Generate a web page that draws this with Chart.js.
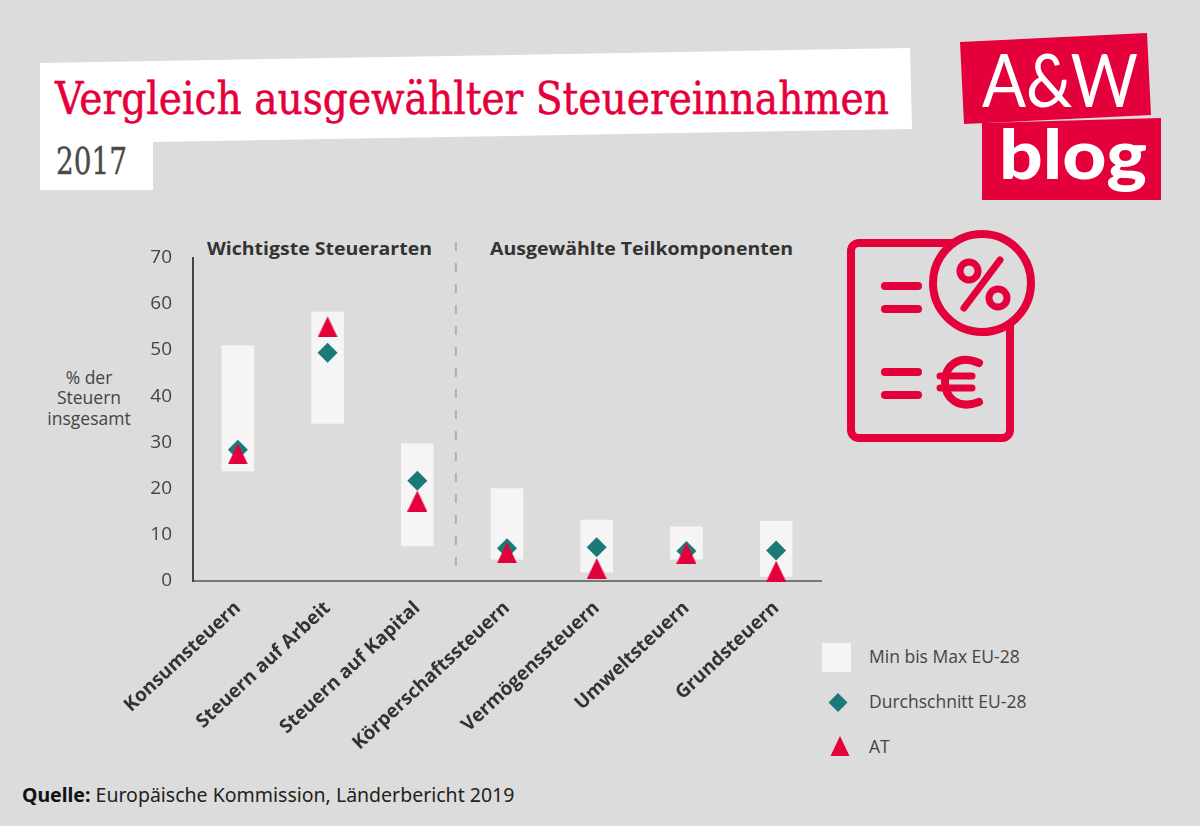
<!DOCTYPE html>
<html lang="de">
<head>
<meta charset="utf-8">
<title>Vergleich ausgewählter Steuereinnahmen</title>
<script src="https://cdn.jsdelivr.net/npm/chart.js@4"></script>
<style>
  html, body { margin: 0; padding: 0; background: #dcdcdc; }
  #wrap { position: relative; width: 1200px; height: 826px; overflow: hidden; }
  #wrap svg, #wrap canvas { position: absolute; left: 0; top: 0; }
</style>
</head>
<body>
<div id="wrap">
<svg width="1200" height="826" viewBox="0 0 1200 826" xmlns="http://www.w3.org/2000/svg">
  <!-- title block -->
  <polygon points="40,63 910,48 912,129 153,142 153,190 40,190" fill="#fff"/>
  <text x="55" y="114" font-family="DejaVu Serif Condensed, DejaVu Serif" font-size="44" fill="#e4003a" stroke="#e4003a" stroke-width="0.5" textLength="834" lengthAdjust="spacingAndGlyphs">Vergleich ausgewählter Steuereinnahmen</text>
  <text x="56" y="174" font-family="DejaVu Serif Condensed, DejaVu Serif" font-size="37" fill="#4a4a4a" stroke="#4a4a4a" stroke-width="0.4" textLength="71" lengthAdjust="spacingAndGlyphs">2017</text>

  <!-- logo -->
  <polygon points="960,42 1147,33 1151,115 964,124" fill="#e4003a"/>
  <polygon points="982,123 1161,118 1161,200 982,200" fill="#e4003a"/>
  <text x="982" y="107" font-family="Lato" font-size="73" fill="#fff" textLength="156" lengthAdjust="spacingAndGlyphs">A&amp;W</text>
  <text x="999" y="179" font-family="Lato" font-weight="900" font-size="68" fill="#fff" textLength="148" lengthAdjust="spacingAndGlyphs">blog</text>

  <!-- document icon -->
  <g fill="none" stroke="#e4003a" stroke-width="8" stroke-linecap="round">
    <rect x="851" y="243" width="159" height="195" rx="8"/>
    <circle cx="982" cy="283" r="49" fill="#dcdcdc"/>
    <circle cx="969" cy="271" r="9" stroke-width="7"/>
    <circle cx="998" cy="298" r="9" stroke-width="7"/>
    <line x1="1000" y1="260" x2="964" y2="308" stroke-width="7"/>
    <line x1="885" y1="286" x2="918" y2="286"/>
    <line x1="885" y1="309" x2="918" y2="309"/>
    <line x1="885" y1="372" x2="918" y2="372"/>
    <line x1="885" y1="395" x2="918" y2="395"/>
    <path d="M979 363 C958 354 945 366 945 382 C945 398 958 410 979 402"/>
    <line x1="940" y1="376" x2="972" y2="376" stroke-width="7"/>
    <line x1="940" y1="388" x2="972" y2="388" stroke-width="7"/>
  </g>

  <!-- panel headings -->
  <text x="207" y="255" font-family="Open Sans" font-weight="700" font-size="18.500" fill="#333" textLength="225" lengthAdjust="spacingAndGlyphs">Wichtigste Steuerarten</text>
  <text x="490" y="255" font-family="Open Sans" font-weight="700" font-size="18.500" fill="#333" textLength="303" lengthAdjust="spacingAndGlyphs">Ausgewählte Teilkomponenten</text>

  <!-- axis title -->
  <g font-family="Open Sans" font-size="17.500" fill="#444" text-anchor="middle">
    <text x="89" y="384">% der</text>
    <text x="89" y="404">Steuern</text>
    <text x="89" y="425">insgesamt</text>
  </g>

  <!-- legend -->
  <rect x="822" y="643" width="29" height="29" fill="#f5f5f5"/>
  <polygon points="838,693 847.5,702.500 838,712 828.500,702.500" fill="#1a7a78"/>
  <polygon points="840,736 849.500,756 830.500,756" fill="#e4003a"/>
  <g font-family="Open Sans" font-size="17.500" fill="#444">
    <text x="869" y="663">Min bis Max EU-28</text>
    <text x="869" y="708">Durchschnitt EU-28</text>
    <text x="869" y="753">AT</text>
  </g>

  <!-- source -->
  <text x="22" y="802" font-family="Noto Sans" font-size="19.5" fill="#222"><tspan font-weight="700" fill="#111">Quelle:</tspan> Europäische Kommission, Länderbericht 2019</text>
</svg>
<canvas id="chart" width="1200" height="826"></canvas>
</div>

<script>
const kategorien = ["Konsumsteuern", "Steuern auf Arbeit", "Steuern auf Kapital", "Körperschaftssteuern", "Vermögenssteuern", "Umweltsteuern", "Grundsteuern"];
const minWerte = [23.8, 34.1, 7.6, 4.7, 1.9, 4.7, 1.0];
const maxWerte = [50.9, 58.2, 29.7, 20.0, 13.2, 11.7, 12.9];
const durchschnitt = [28.4, 49.4, 21.7, 7.1, 7.3, 6.5, 6.6];
const oesterreich = [27.5, 55.0, 17.3, 6.1, 2.7, 6.0, 2.1];

const ROT = "#e4003a";
const TEAL = "#1a7a78";

// chart.js triangle is too squat, so use a small canvas as point style
function dreieck(b, h) {
    const c = document.createElement("canvas");
    c.width = b;
    c.height = h;
    const ctx = c.getContext("2d");
    ctx.fillStyle = ROT;
    ctx.beginPath();
    ctx.moveTo(b / 2, 0);
    ctx.lineTo(b, h);
    ctx.lineTo(0, h);
    ctx.closePath();
    ctx.fill();
    return c;
}

// dashed divider between the two groups of categories
const trennlinie = {
    id: "trennlinie",
    beforeDatasetsDraw(chart) {
        const ctx = chart.ctx;
        const x = chart.scales.x.getPixelForValue(2.43);
        ctx.save();
        ctx.strokeStyle = "#b0b0b0";
        ctx.lineWidth = 2;
        ctx.setLineDash([9, 12]);
        ctx.beginPath();
        ctx.moveTo(x, 242);
        ctx.lineTo(x, chart.chartArea.bottom - 3);
        ctx.stroke();
        ctx.restore();
    }
};

new Chart(document.getElementById("chart"), {
    data: {
        labels: kategorien,
        datasets: [
            {
                type: "line",
                label: "AT",
                data: oesterreich,
                showLine: false,
                pointStyle: dreieck(20, 21),
                pointRadius: 10,
                clip: false,
                order: 0
            },
            {
                type: "line",
                label: "Durchschnitt EU-28",
                data: durchschnitt,
                showLine: false,
                pointStyle: "rectRot",
                pointRadius: 10,
                pointBorderWidth: 0,
                pointBackgroundColor: TEAL,
                clip: false,
                order: 1
            },
            {
                type: "bar",
                label: "Min bis Max EU-28",
                data: minWerte.map((m, i) => [m, maxWerte[i]]),
                backgroundColor: "#f5f5f5",
                barThickness: 32,
                order: 2
            }
        ]
    },
    options: {
        responsive: false,
        animation: false,
        devicePixelRatio: 1,
        layout: { padding: { left: 0, right: 379, top: 257.5, bottom: 0 } },
        plugins: { legend: { display: false }, tooltip: { enabled: false } },
        scales: {
            x: {
                grid: { display: false, drawTicks: false },
                border: { color: "#777", width: 2 },
                afterFit(scale) { scale.height = 245; },
                ticks: {
                    minRotation: 43,
                    maxRotation: 43,
                    autoSkip: false,
                    padding: 16,
                    color: "#333",
                    font: { family: "Open Sans", size: 19, weight: "700" }
                }
            },
            y: {
                min: 0,
                max: 70,
                grid: { display: false, drawTicks: false },
                border: { color: "#444", width: 2 },
                afterFit(scale) { scale.width = 193; },
                ticks: {
                    stepSize: 10,
                    padding: 21,
                    color: "#444",
                    font: { family: "Open Sans", size: 19 }
                }
            }
        }
    },
    plugins: [trennlinie]
});
</script>
</body>
</html>
